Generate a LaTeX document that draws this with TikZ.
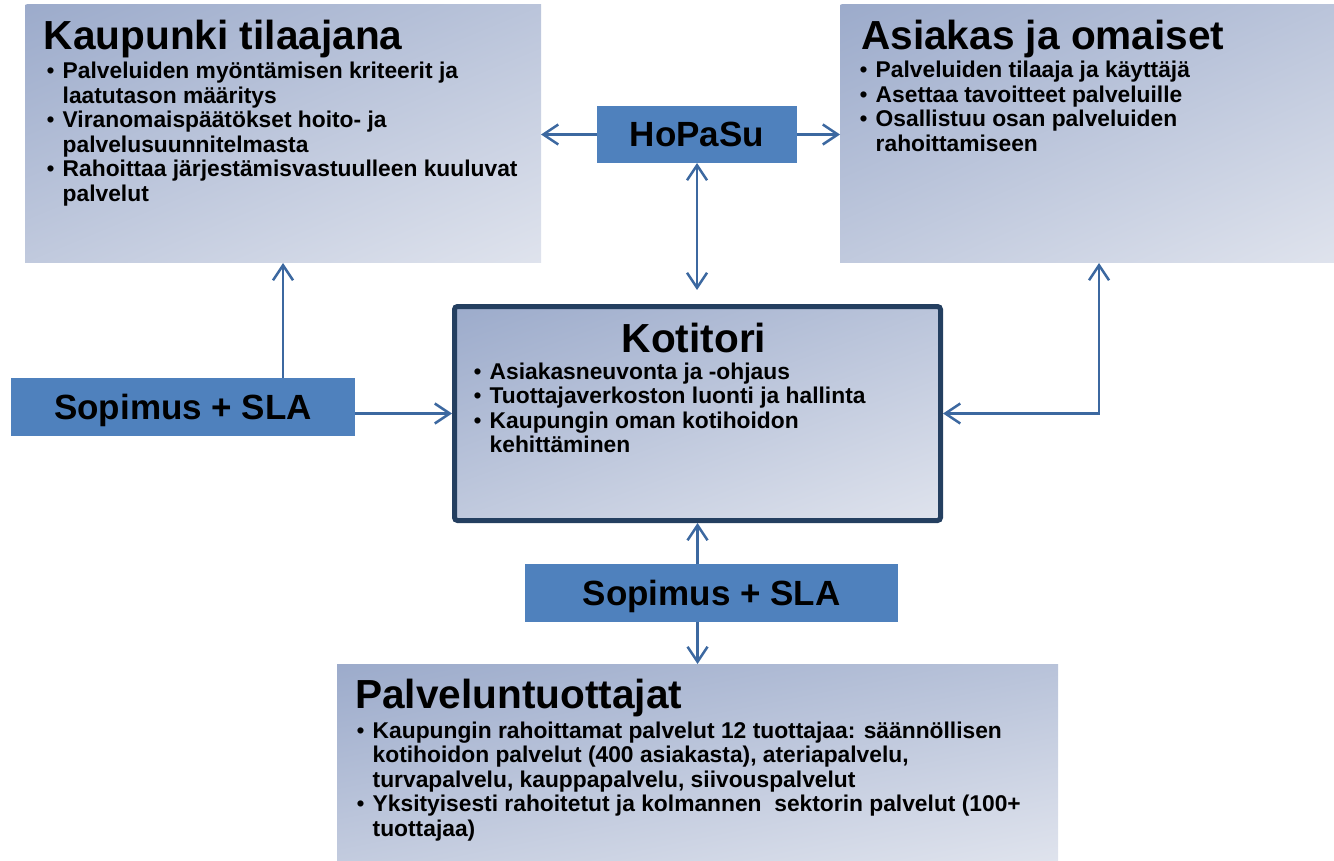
\documentclass[tikz,border=0pt]{standalone}
\usepackage{fontspec}
\setmainfont{Liberation Sans}
\usetikzlibrary{arrows.meta,calc}
\definecolor{boxA}{RGB}{156,171,203}
\definecolor{boxB}{RGB}{223,227,237}
\definecolor{hdr}{RGB}{79,129,189}
\definecolor{arrc}{RGB}{60,104,160}
\definecolor{navy}{RGB}{36,63,96}
\newcommand{\tfont}{\fontsize{40.6}{44}\selectfont\bfseries}
\newcommand{\bfont}{\fontsize{22.8}{24.5}\selectfont\bfseries}
\newcommand{\hfont}{\fontsize{35}{40}\selectfont\bfseries}
\newcommand{\bi}{\makebox[16pt][l]{\fontseries{m}\selectfont •}}
\newcommand{\ci}{\hspace*{16pt}}
% diagonal gradient box: darkest at top-left corner, lightest at bottom-right
% #1 = centre x, #2 = centre y, #3 = width, #4 = height, #5 = clip options
\newcommand{\gradrect}[5]{%
  \pgfmathsetmacro\gth{atan(#4/#3)-4}%
  \pgfmathsetmacro\gD{(#3*sin(\gth)+#4*cos(\gth))/2}%
  \pgfmathsetmacro\gL{veclen(#3,#4)+6}%
  \begin{scope}
    \clip[#5] (#1-#3/2,#2-#4/2) rectangle (#1+#3/2,#2+#4/2);
    \begin{scope}[transform canvas={rotate around={\gth:(#1,#2)}}]
      \shade[top color=boxA, bottom color=boxB]
        (#1-\gL/2,#2-\gD) rectangle (#1+\gL/2,#2+\gD);
    \end{scope}
  \end{scope}%
}
\tikzset{
  infobox/.style={rectangle, inner sep=0pt, outer sep=0pt},
  hdrbox/.style={rectangle, fill=hdr, inner sep=0pt, outer sep=0pt, font=\hfont, text height=25pt, text depth=0pt},
  ttl/.style={anchor=base west, inner sep=0pt, font=\tfont},
  blist/.style={anchor=base west, inner sep=0pt, font=\bfont},
  arr/.style={draw=arrc, line width=2.5pt},
}
\begin{document}
\begin{tikzpicture}[x=1pt,y=-1pt,>={Straight Barb[length=15pt,width=20pt]}]
\useasboundingbox (0,0) rectangle (1334,861);

% box backgrounds
\gradrect{283}{134}{516}{258}{}
\gradrect{1087}{134}{494}{258}{}
\gradrect{697.5}{762.5}{721}{197}{}
\gradrect{697.5}{413.5}{488}{216}{rounded corners=3pt}

% boxes
\node[infobox, minimum width=516pt, minimum height=258pt] (kaup) at (283,134) {};
\node[infobox, minimum width=494pt, minimum height=258pt] (asi) at (1087,134) {};
\node[infobox, minimum width=721pt, minimum height=197pt] (pal) at (697.5,762.5) {};
\node[rectangle, draw=navy, line width=5pt, rounded corners=3pt, inner sep=0pt, minimum width=486pt, minimum height=214pt] (kot) at (697.5,413.5) {};

\node[hdrbox, minimum width=200pt, minimum height=57pt] (hop) at (697,134.5) {HoPaSu};
\node[hdrbox, minimum width=344pt, minimum height=58pt] (sop1) at (183,407) {Sopimus + SLA};
\node[hdrbox, minimum width=373pt, minimum height=58pt] (sop2) at (711.5,593) {Sopimus + SLA};

% texts
\node[ttl] (kaupT) at (43.5,50) {Kaupunki tilaajana};
\node[blist] (kaupL) at (46.5,79) {\begin{tabular}[t]{@{}l@{}}
\bi Palveluiden myöntämisen kriteerit ja\\
\ci laatutason määritys\\
\bi Viranomaispäätökset hoito- ja\\
\ci palvelusuunnitelmasta\\
\bi Rahoittaa järjestämisvastuulleen kuuluvat\\
\ci palvelut
\end{tabular}};

\node[ttl] (asiT) at (861,50) {Asiakas ja omaiset};
\node[blist] (asiL) at (859.5,78) {\begin{tabular}[t]{@{}l@{}}
\bi Palveluiden tilaaja ja käyttäjä\\
\bi Asettaa tavoitteet palveluille\\
\bi Osallistuu osan palveluiden\\
\ci rahoittamiseen
\end{tabular}};

\node[anchor=base, inner sep=0pt, font=\tfont] (kotT) at (694,352) {Kotitori};
\node[blist] (kotL) at (473.5,379) {\begin{tabular}[t]{@{}l@{}}
\bi Asiakasneuvonta ja -ohjaus\\
\bi Tuottajaverkoston luonti ja hallinta\\
\bi Kaupungin oman kotihoidon\\
\ci kehittäminen
\end{tabular}};

\node[ttl] (palT) at (355,708) {Palveluntuottajat};
\node[blist] (palL) at (356.5,738) {\begin{tabular}[t]{@{}l@{}}
\bi Kaupungin rahoittamat palvelut 12 tuottajaa: säännöllisen\\
\ci kotihoidon palvelut (400 asiakasta), ateriapalvelu,\\
\ci turvapalvelu, kauppapalvelu, siivouspalvelut\\
\bi Yksityisesti rahoitetut ja kolmannen\ \ sektorin palvelut (100+\\
\ci tuottajaa)
\end{tabular}};

% connectors
\coordinate (elb) at (1099,413.5);
\draw[arr,->] (hop.west) -- (hop.west -| kaup.east);
\draw[arr,->] (hop.east) -- (hop.east -| asi.west);
\draw[arr,<->, shorten >=14pt] (hop.south) -- (hop.south |- kot.north);
\draw[arr,->] (kaup.south |- sop1.north) -- (kaup.south);
\draw[arr,->] (sop1.east |- kot.west) -- (kot.west);
\draw[arr,<->] (kot.east) -- (elb) -- (elb |- asi.south);
\draw[arr,->] (sop2.north -| kot.south) -- (kot.south);
\draw[arr,->] (sop2.south -| kot.south) -- (kot.south |- pal.north);
\end{tikzpicture}
\end{document}
